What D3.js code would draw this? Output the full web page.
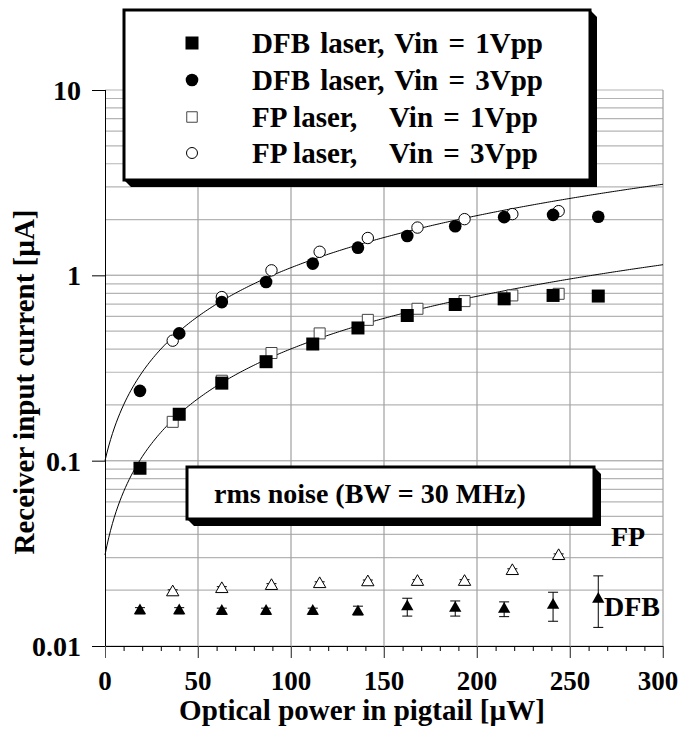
<!DOCTYPE html>
<html>
<head>
<meta charset="utf-8">
<script src="https://cdn.jsdelivr.net/npm/d3@7"></script>
<style>
  html, body { margin: 0; padding: 0; background: #fff; }
</style>
</head>
<body>
<svg id="chart" width="680" height="734"></svg>
<script>
// Optical power positions [µW]
const dfbPower = [18.8, 39.9, 62.8, 86.6, 111.7, 136, 162.5, 188.3, 214.6, 240.9, 265.2];
const fpPower  = [36.4, 62.8, 89.5, 115.4, 141.3, 168, 193.3, 219, 243.9];

// Receiver input current [µA]
const dfb1Vpp = [0.091, 0.178, 0.262, 0.342, 0.426, 0.52, 0.607, 0.696, 0.747, 0.779, 0.773];
const dfb3Vpp = [0.238, 0.486, 0.717, 0.92, 1.157, 1.41, 1.63, 1.84, 2.06, 2.12, 2.07];
const fp1Vpp  = [0.162, 0.27, 0.381, 0.486, 0.575, 0.66, 0.726, 0.779, 0.795];
const fp3Vpp  = [0.444, 0.763, 1.064, 1.34, 1.59, 1.81, 2.01, 2.14, 2.22];

// rms noise [µA] with error ranges
const dfbNoise   = [0.0155, 0.0155, 0.0154, 0.0154, 0.0154, 0.0153, 0.0163, 0.0160, 0.0158, 0.0166, 0.0179];
const dfbNoiseLo = [0.0149, 0.0149, 0.0148, 0.0148, 0.0148, 0.0147, 0.0145, 0.0145, 0.0144, 0.0136, 0.0126];
const dfbNoiseHi = [0.0161, 0.0161, 0.0160, 0.0160, 0.0160, 0.0164, 0.0181, 0.0175, 0.0173, 0.0195, 0.0239];
const fpNoise    = [0.0195, 0.0203, 0.0211, 0.0216, 0.0221, 0.0222, 0.0222, 0.0254, 0.0306];
const fpNoiseLo  = [0.0189, 0.0197, 0.0205, 0.0210, 0.0215, 0.0216, 0.0216, 0.0247, 0.0298];
const fpNoiseHi  = [0.0201, 0.0209, 0.0217, 0.0222, 0.0227, 0.0228, 0.0228, 0.0261, 0.0314];

// Linear fits I = slope * P + intercept (3 Vpp, 1 Vpp)
const fitSlope     = [0.0100, 0.0037];
const fitIntercept = [0.100, 0.031];

// Axis ticks
const xTicks = [0, 50, 100, 150, 200, 250, 300];
const yTicks = [0.01, 0.1, 1, 10];
const yTickLabels = ["0.01", "0.1", "1", "10"];

const legendLabels = ["DFB laser,", "DFB laser,", "FP laser,", "FP laser,"];
const legendVin = ["Vin = 1Vpp", "Vin = 3Vpp", "Vin = 1Vpp", "Vin = 3Vpp"];

const svg = d3.select("#chart");
const L = 105, R = 663, T = 90, B = 646;

const x = d3.scaleLinear().domain([0, 300]).range([L, R]);
const y = d3.scaleLog().domain([0.01, 10]).range([B, T]);

function label(sel, size) {
  return sel.attr("font-size", size)
    .style("font-family", "'Liberation Serif', 'Times New Roman', serif")
    .style("font-weight", "700");
}

// Grid
const grid = svg.append("g");
const minorY = [];
[0.01, 0.1, 1].forEach(d => { for (let k = 1; k <= 10; k++) minorY.push(d * k); });
grid.selectAll("line.h").data(minorY).join("line")
  .attr("x1", L).attr("x2", R)
  .attr("y1", d => y(d)).attr("y2", d => y(d))
  .attr("stroke", "#b4b4b4").attr("stroke-width", 1.2);
grid.selectAll("line.v").data(xTicks.slice(1)).join("line")
  .attr("x1", d => x(d)).attr("x2", d => x(d))
  .attr("y1", T).attr("y2", B + 12)
  .attr("stroke", "#a0a0a0").attr("stroke-width", 1.2);

// Fit curves
const samples = d3.range(0, 300.01, 1);
fitSlope.forEach((a, i) => {
  const line = d3.line()
    .x(p => x(p))
    .y(p => y(a * p + fitIntercept[i]));
  svg.append("path").attr("d", line(samples))
    .attr("fill", "none").attr("stroke", "#000").attr("stroke-width", 1);
});

// Axes
const xAxis = d3.axisBottom(x).tickValues(d3.range(0, 301, 10)).tickSize(5).tickFormat("");
const gx = svg.append("g").attr("transform", `translate(0,${B})`).call(xAxis);
gx.select(".domain").attr("stroke", "#000").attr("d", `M${L},0.5H${R}`);
gx.selectAll(".tick line").attr("stroke", "#000");
gx.selectAll(".tick").filter(d => d % 50 === 0).select("line").attr("y2", 12).attr("stroke", "#555");

const yAxis = d3.axisLeft(y).tickValues(yTicks).tickSize(13).tickFormat("");
const gy = svg.append("g").attr("transform", `translate(${L},0)`).call(yAxis);
gy.select(".domain").attr("stroke", "#000").attr("d", `M0.5,${T}V${B}`);
gy.selectAll(".tick line").attr("stroke", "#000");

label(svg.append("g").selectAll("text").data(yTicks).join("text"), 28)
  .attr("x", 81).attr("y", d => y(d) + 10)
  .attr("text-anchor", "end")
  .text((d, i) => yTickLabels[i]);
label(svg.append("g").selectAll("text").data(xTicks).join("text"), 27)
  .attr("x", d => Math.min(x(d), 658)).attr("y", 690)
  .attr("text-anchor", "middle")
  .text(d => d);

label(svg.append("text"), 29).attr("x", 362).attr("y", 720)
  .attr("text-anchor", "middle")
  .text("Optical power in pigtail [\u00b5W]");
label(svg.append("text"), 29).attr("transform", "translate(34,382) rotate(-90)")
  .attr("text-anchor", "middle")
  .text("Receiver input current [\u00b5A]");

// Markers
const sym = (type, size) => d3.symbol().type(type).size(size)();
function markers(xv, yv, type, size, fill, stroke) {
  svg.append("g").selectAll("path").data(xv).join("path")
    .attr("transform", (d, i) => `translate(${x(d)},${y(yv[i])})`)
    .attr("d", sym(type, size))
    .attr("fill", fill).attr("stroke", stroke).attr("stroke-width", 1);
}
function errorBars(xv, lo, hi) {
  const g = svg.append("g").attr("stroke", "#000").attr("stroke-width", 1);
  xv.forEach((d, i) => {
    const cx = x(d);
    g.append("line").attr("x1", cx).attr("x2", cx).attr("y1", y(lo[i])).attr("y2", y(hi[i]));
    [lo[i], hi[i]].forEach(v => g.append("line")
      .attr("x1", cx - 5).attr("x2", cx + 5).attr("y1", y(v)).attr("y2", y(v)));
  });
}

markers(fpPower, fp1Vpp, d3.symbolSquare, 121, "#fff", "#444");
markers(fpPower, fp3Vpp, d3.symbolCircle, 102, "#fff", "#000");
markers(dfbPower, dfb1Vpp, d3.symbolSquare, 169, "#000", "none");
markers(dfbPower, dfb3Vpp, d3.symbolCircle, 125, "#000", "none");

errorBars(fpPower, fpNoiseLo, fpNoiseHi);
errorBars(dfbPower, dfbNoiseLo, dfbNoiseHi);
markers(fpPower, fpNoise, d3.symbolTriangle, 66, "#fff", "#000");
markers(dfbPower, dfbNoise, d3.symbolTriangle, 66, "#000", "none");

label(svg.append("text"), 28).attr("x", 611).attr("y", 546).text("FP");
label(svg.append("text"), 28).attr("x", 604).attr("y", 616).text("DFB");

// Framed boxes with a slanted drop shadow
function shadowBox(x0, y0, x1, y1, d) {
  svg.append("polygon")
    .attr("points", [[x1, y0], [x1 + d, y0 + d], [x1 + d, y1 + d], [x0 + d, y1 + d], [x0, y1]].join(" "))
    .attr("fill", "#000");
  svg.append("rect").attr("x", x0).attr("y", y0)
    .attr("width", x1 - x0).attr("height", y1 - y0)
    .attr("fill", "#fff").attr("stroke", "#000").attr("stroke-width", 3);
}

// Legend
shadowBox(124, 10, 590, 180, 7);
const legendTypes = [
  [d3.symbolSquare, 169, "#000", "none"],
  [d3.symbolCircle, 125, "#000", "none"],
  [d3.symbolSquare, 110, "#fff", "#444"],
  [d3.symbolCircle, 95, "#fff", "#000"]
];
const rowY = [43, 80, 117, 153];
legendTypes.forEach((t, i) => {
  svg.append("path").attr("transform", `translate(192,${rowY[i]})`)
    .attr("d", sym(t[0], t[1])).attr("fill", t[2]).attr("stroke", t[3]);
  if (i < 2) {
    label(svg.append("text"), 29).attr("x", 252).attr("y", rowY[i] + 10)
      .attr("word-spacing", 3)
      .text(legendLabels[i] + " " + legendVin[i]);
  } else {
    label(svg.append("text"), 29).attr("x", 252).attr("y", rowY[i] + 10).text(legendLabels[i]);
    label(svg.append("text"), 29).attr("x", 389).attr("y", rowY[i] + 10)
      .attr("word-spacing", 3).text(legendVin[i]);
  }
});

// Noise annotation
shadowBox(187, 467, 594, 519, 7);
label(svg.append("text"), 28).attr("x", 214).attr("y", 503).text("rms noise (BW = 30 MHz)");
</script>
</body>
</html>
